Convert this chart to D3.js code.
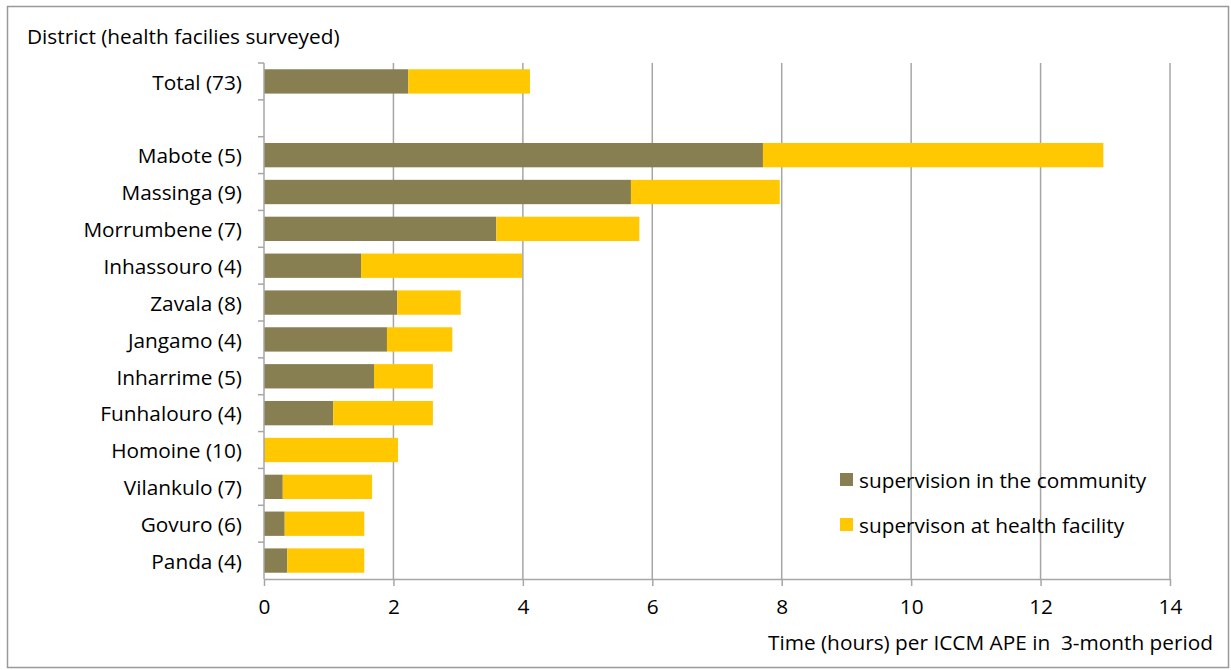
<!DOCTYPE html>
<html>
<head>
<meta charset="utf-8">
<script src="https://cdn.jsdelivr.net/npm/d3@7"></script>
<style>
  body { margin: 0; background: #fff; }
  text { font-family: "Open Sans", Lato, sans-serif; fill: #000; }
</style>
</head>
<body>
<div id="chart"></div>
<script>
// districts, top to bottom ("" is the empty spacer row)
const districts = ["Total (73)", "", "Mabote (5)", "Massinga (9)", "Morrumbene (7)", "Inhassouro (4)",
  "Zavala (8)", "Jangamo (4)", "Inharrime (5)", "Funhalouro (4)", "Homoine (10)",
  "Vilankulo (7)", "Govuro (6)", "Panda (4)"];
const community = [2.23, 0, 7.71, 5.67, 3.59, 1.50, 2.06, 1.90, 1.70, 1.07, 0, 0.29, 0.32, 0.36];
const facility  = [1.88, 0, 5.26, 2.30, 2.21, 2.49, 0.98, 1.01, 0.91, 1.54, 2.07, 1.38, 1.23, 1.19];
const seriesNames = ["supervision in the community", "supervison at health facility"];
const xTicks = [0, 2, 4, 6, 8, 10, 12, 14];

const W = 1231, H = 670;
const margin = {left: 264, right: 61, top: 63, bottom: 91};
const colors = ["#877e52", "#ffc800"];
const fs = "20.8px";

const svg = d3.select("#chart").append("svg")
    .attr("width", W).attr("height", H);

svg.append("rect")
    .attr("x", 7.5).attr("y", 6.5)
    .attr("width", 1221).attr("height", 661)
    .attr("fill", "none").attr("stroke", "#999").attr("stroke-width", 1.5);

const x = d3.scaleLinear().domain([0, 14]).range([margin.left, W - margin.right]);
const y = d3.scaleBand().domain(d3.range(districts.length))
    .range([margin.top, H - margin.bottom]).paddingInner(0.34).paddingOuter(0.17);

// vertical gridlines
svg.append("g").selectAll("line")
    .data(xTicks.slice(1))
    .join("line")
    .attr("x1", d => x(d)).attr("x2", d => x(d))
    .attr("y1", margin.top).attr("y2", H - margin.bottom)
    .attr("stroke", "#a6a6a6").attr("stroke-width", 1.5);

// stacked bars
const rows = districts.map((d, i) => ({i, community: community[i], facility: facility[i]}));
const stack = d3.stack().keys(["community", "facility"])(rows);

svg.append("g").selectAll("g")
    .data(stack)
    .join("g")
    .attr("fill", (d, k) => colors[k])
    .selectAll("rect")
    .data(d => d.filter(p => p[1] > p[0]))
    .join("rect")
    .attr("x", d => x(d[0]))
    .attr("width", d => x(d[1]) - x(d[0]))
    .attr("y", d => y(d.data.i))
    .attr("height", y.bandwidth());

// y axis: line plus ticks at band boundaries
const step = y.step();
const yAxis = svg.append("g");
yAxis.append("line")
    .attr("x1", margin.left).attr("x2", margin.left)
    .attr("y1", margin.top).attr("y2", H - margin.bottom)
    .attr("stroke", "#a6a6a6").attr("stroke-width", 1.5);
yAxis.selectAll("line.tick")
    .data(d3.range(districts.length))
    .join("line")
    .attr("class", "tick")
    .attr("x1", margin.left - 6).attr("x2", margin.left)
    .attr("y1", d => margin.top + d * step).attr("y2", d => margin.top + d * step)
    .attr("stroke", "#a6a6a6").attr("stroke-width", 1.5);
yAxis.selectAll("text")
    .data(districts)
    .join("text")
    .attr("x", margin.left - 22)
    .attr("y", (d, i) => y(i) + y.bandwidth() / 2 + 1)
    .attr("dy", "0.35em")
    .attr("text-anchor", "end")
    .style("font-size", fs)
    .text(d => d);

// x axis
const xAxis = svg.append("g")
    .attr("transform", `translate(0,${H - margin.bottom})`)
    .call(d3.axisBottom(x).tickValues(xTicks).tickSizeInner(7).tickSizeOuter(0).tickPadding(13));
xAxis.select(".domain").attr("stroke", "#a6a6a6").attr("stroke-width", 1.5);
xAxis.selectAll(".tick line").attr("stroke", "#a6a6a6").attr("stroke-width", 1.5);
xAxis.selectAll(".tick text").style("font-size", fs).attr("font-family", null);

// titles
svg.append("text")
    .attr("x", 27).attr("y", 44)
    .style("font-size", fs)
    .text("District (health facilies surveyed)");
svg.append("text")
    .attr("x", 1213).attr("y", 650)
    .attr("text-anchor", "end")
    .style("font-size", fs)
    .style("white-space", "pre")
    .text("Time (hours) per ICCM APE in\u00a0 3-month period");

// legend
const legend = svg.append("g").attr("transform", "translate(840,473)");
const item = legend.selectAll("g")
    .data(seriesNames)
    .join("g")
    .attr("transform", (d, i) => `translate(0,${i * 45})`);
item.append("rect")
    .attr("width", 13).attr("height", 13)
    .attr("fill", (d, i) => colors[i]);
item.append("text")
    .attr("x", 19).attr("y", 8)
    .attr("dy", "0.35em")
    .style("font-size", fs)
    .text(d => d);
</script>
</body>
</html>
